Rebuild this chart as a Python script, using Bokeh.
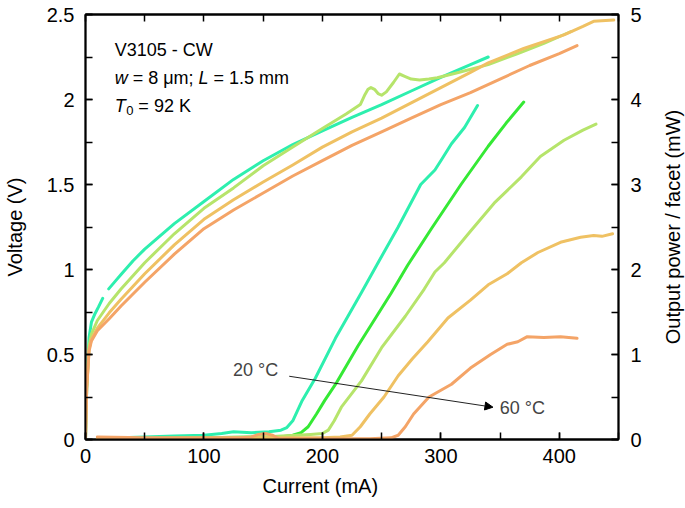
import math
from bokeh.plotting import figure
from bokeh.models import (Range1d, LinearAxis, SingleIntervalTicker, FixedTicker,
                          Label, Arrow, NormalHead, CustomJSTickFormatter, Title)
from bokeh.embed import file_html
from bokeh.resources import INLINE

nan = float("nan")

# ---------------- data ----------------
temps = ["20 °C", "30 °C", "40 °C", "50 °C", "60 °C"]
colors = ["#2DEFAE", "#35E935", "#B6E46B", "#EFC163", "#F4A467"]

# Voltage (V) vs current (mA)
v20_I = [0, 1, 3, 5, 8, 11, 14.5, nan, 19.6, 25, 30, 40, 50, 75, 100, 125, 150, 175, 200, 225, 250, 275, 300, 325, 340]
v20_V = [0, 0.3, 0.6, 0.69, 0.74, 0.78, 0.83, nan, 0.886, 0.93, 0.97, 1.05, 1.12, 1.27, 1.40, 1.53, 1.64, 1.735, 1.815, 1.895, 1.97, 2.05, 2.13, 2.205, 2.25]

v40_I = [0, 1, 3, 5, 10, 20, 30, 50, 75, 100, 125, 150, 175, 200, 220, 232, 236, 238.5, 241, 244, 247, 250, 254, 260, 265, 270, 275, 282, 290, 297, 314, 340, 365, 387, 410]
v40_V = [0, 0.3, 0.55, 0.62, 0.70, 0.80, 0.885, 1.04, 1.21, 1.36, 1.48, 1.61, 1.72, 1.83, 1.915, 1.97, 2.03, 2.06, 2.07, 2.06, 2.035, 2.025, 2.045, 2.10, 2.15, 2.135, 2.12, 2.115, 2.12, 2.128, 2.157, 2.205, 2.27, 2.33, 2.40]

v50_I = [0, 1, 3, 5, 10, 20, 30, 50, 75, 100, 125, 150, 175, 200, 225, 250, 275, 300, 325, 340, 370, 404, 420, 429, 446]
v50_V = [0, 0.3, 0.53, 0.59, 0.655, 0.745, 0.825, 0.975, 1.145, 1.295, 1.41, 1.515, 1.615, 1.72, 1.81, 1.89, 1.98, 2.07, 2.16, 2.215, 2.30, 2.38, 2.43, 2.46, 2.467]

v60_I = [0, 1, 3, 5, 10, 20, 30, 50, 75, 100, 125, 150, 175, 200, 225, 250, 275, 300, 325, 350, 375, 400, 415]
v60_V = [0, 0.3, 0.52, 0.58, 0.64, 0.71, 0.785, 0.925, 1.09, 1.24, 1.35, 1.45, 1.55, 1.64, 1.73, 1.81, 1.89, 1.97, 2.04, 2.12, 2.20, 2.27, 2.317]

# Output power / facet (mW) vs current (mA)
p20_I = [10, 30, 50, 75, 100, 115, 125, 140, 155, 165, 170, 175, 183, 194, 211, 233, 247, 264, 283, 295, 300, 309, 320, 331]
p20_P = [0.01, 0.02, 0.03, 0.04, 0.05, 0.07, 0.09, 0.08, 0.09, 0.11, 0.14, 0.22, 0.46, 0.72, 1.19, 1.73, 2.08, 2.5, 3.0, 3.17, 3.28, 3.48, 3.67, 3.93]

p30_I = [10, 50, 100, 150, 160, 175, 182, 188, 195, 202, 212, 230, 258, 272, 292, 317, 340, 355, 370]
p30_P = [0.01, 0.01, 0.02, 0.03, 0.02, 0.05, 0.08, 0.15, 0.3, 0.46, 0.67, 1.1, 1.72, 2.05, 2.48, 3.0, 3.45, 3.72, 3.97]

p40_I = [10, 100, 150, 190, 200, 205, 210, 216, 233, 250, 270, 286, 295, 303, 325, 345, 368, 384, 404, 420, 431]
p40_P = [0.01, 0.02, 0.03, 0.06, 0.07, 0.11, 0.22, 0.38, 0.69, 1.08, 1.45, 1.77, 1.97, 2.08, 2.45, 2.78, 3.09, 3.33, 3.52, 3.64, 3.71]

p50_I = [10, 100, 150, 200, 215, 225, 232, 240, 252, 264, 276, 289, 306, 325, 340, 356, 368, 382, 401, 418, 429, 436, 445]
p50_P = [0.01, 0.01, 0.02, 0.02, 0.03, 0.05, 0.15, 0.30, 0.5, 0.75, 0.95, 1.15, 1.43, 1.64, 1.82, 1.95, 2.08, 2.2, 2.32, 2.38, 2.40, 2.39, 2.42]

p60_I = [10, 50, 100, 130, 140, 146, 152, 158, 163, 200, 240, 258, 264, 270, 277, 290, 309, 325, 342, 356, 365, 373, 387, 401, 415]
p60_P = [0.03, 0.02, 0.02, 0.02, 0.03, 0.06, 0.07, 0.05, 0.01, 0.01, 0.01, 0.02, 0.05, 0.15, 0.3, 0.5, 0.65, 0.84, 1.0, 1.12, 1.15, 1.21, 1.20, 1.21, 1.19]

# axis ranges / ticks
x_range = (0, 450)
v_range = (0, 2.5)
p_range = (0, 5)
top_minor_ticks = [0, 50, 100, 150, 200, 250, 300, 350, 400, 450]

# annotation anchors (data coordinates)
arrow_start = (172, 0.372)
arrow_end = (344, 0.19)
label_20 = (124.6, 0.409)
label_60 = (349.8, 0.188)
info_x = 24.6
info_y = [2.29, 2.125, 1.963]

FONT = "Liberation Sans"
TICK_FS = "20px"
ANN_FS = 18

p = figure(width=685, height=508, x_range=Range1d(*x_range), y_range=Range1d(*v_range),
           output_backend="svg", toolbar_location=None,
           min_border_left=83, min_border_right=67, min_border_top=14, min_border_bottom=69)
p.grid.visible = False
p.outline_line_color = "black"
p.outline_line_width = 1.8
p.background_fill_color = "white"
p.border_fill_color = "white"

p.extra_y_ranges = {"power": Range1d(*p_range)}


def style_axis(ax, standoff=10):
    ax.axis_line_color = "black"
    ax.axis_line_width = 1.8
    ax.major_tick_in = 7
    ax.major_tick_out = 0
    ax.minor_tick_in = 7
    ax.minor_tick_out = 0
    ax.major_tick_line_width = 1.5
    ax.minor_tick_line_width = 1.5
    ax.major_tick_line_color = "black"
    ax.minor_tick_line_color = "black"
    ax.major_label_text_font = FONT
    ax.major_label_text_font_size = TICK_FS
    ax.major_label_text_color = "black"
    ax.major_label_standoff = standoff
    ax.axis_label_text_font = FONT
    ax.axis_label_text_font_size = "20px"
    ax.axis_label_text_font_style = "normal"
    ax.axis_label_text_color = "black"


fmt = CustomJSTickFormatter(code="return String(Math.round(tick*100)/100);")

xa = p.xaxis[0]
xa.ticker = SingleIntervalTicker(interval=100, num_minor_ticks=2)
xa.formatter = fmt
style_axis(xa, 9)

ya = p.yaxis[0]
ya.ticker = SingleIntervalTicker(interval=0.5, num_minor_ticks=2)
ya.formatter = fmt
style_axis(ya, 11)
ya.axis_label = "Voltage (V)"
ya.axis_label_standoff = 18

ra = LinearAxis(y_range_name="power", ticker=SingleIntervalTicker(interval=1, num_minor_ticks=2),
                formatter=fmt)
style_axis(ra, 12)
p.add_layout(ra, "right")

ta = LinearAxis(ticker=FixedTicker(ticks=[], minor_ticks=top_minor_ticks))
style_axis(ta, 0)
p.add_layout(ta, "above")

p.add_layout(Title(text="Current (mA)", align="left", offset=177, standoff=14,
                   text_font=FONT, text_font_size="20px", text_font_style="normal",
                   text_color="black"), "below")

# right-hand axis title, reading bottom-to-top like the left one
p.add_layout(Label(x=x_range[1], y=(v_range[0] + v_range[1]) / 2, x_offset=54,
                   text="Output power / facet (mW)", angle=math.pi / 2,
                   text_font=FONT, text_font_size="20px", text_color="black",
                   text_align="center", text_baseline="middle"), "right")

# ---- curves ----
volt = [(v20_I, v20_V, colors[0]), (v40_I, v40_V, colors[2]),
        (v50_I, v50_V, colors[3]), (v60_I, v60_V, colors[4])]
power = [(p20_I, p20_P, colors[0]), (p30_I, p30_P, colors[1]), (p40_I, p40_P, colors[2]),
         (p50_I, p50_P, colors[3]), (p60_I, p60_P, colors[4])]

for I, V, c in volt:
    p.line(I, V, line_color=c, line_width=3, line_cap="round", line_join="round")
for I, P, c in power:
    p.line(I, P, line_color=c, line_width=3, line_cap="round", line_join="round",
           y_range_name="power")

# ---- arrow and temperature labels ----
p.add_layout(Arrow(end=NormalHead(size=8, fill_color="black", line_color="black", line_width=1),
                   x_start=arrow_start[0], y_start=arrow_start[1],
                   x_end=arrow_end[0], y_end=arrow_end[1],
                   line_color="#222222", line_width=1))
p.add_layout(Label(x=label_20[0], y=label_20[1], text=temps[0], text_font=FONT,
                   text_font_size=f"{ANN_FS}px", text_align="left", text_baseline="middle"))
p.add_layout(Label(x=label_60[0], y=label_60[1], text=temps[4], text_font=FONT,
                   text_font_size=f"{ANN_FS}px", text_align="left", text_baseline="middle"))

# ---- info block ----
W = {" ": 278, "=": 584, "8": 556, "μ": 576, "m": 833, ";": 278, "1": 556, ".": 278,
     "5": 556, "w": 722, "L": 556, "T": 611, "0": 556, "9": 556, "2": 556, "K": 667}


def em(s):
    return sum(W[ch] for ch in s) / 1000.0


def lab(x_off, y, txt, style="normal", fs=ANN_FS, y_off=0):
    p.add_layout(Label(x=info_x, y=y, x_offset=x_off, y_offset=y_off, text=txt,
                       text_font=FONT, text_font_size=f"{fs}px", text_font_style=style,
                       text_align="left", text_baseline="alphabetic", text_color="black"))


lab(0, info_y[0], "V3105 - CW")
lab(0, info_y[1], "w", "italic")
lab(em("w ") * ANN_FS, info_y[1], "= 8 μm;")
lab(em("w = 8 μm; ") * ANN_FS, info_y[1], "L", "italic")
lab(em("w = 8 μm; L ") * ANN_FS, info_y[1], "= 1.5 mm")
sub_fs = 13
lab(0, info_y[2], "T", "italic")
lab(em("T") * ANN_FS + 0.5, info_y[2], "0", "normal", sub_fs, -5)
lab(em("T") * ANN_FS + em("0") * sub_fs + em(" ") * ANN_FS + 0.5, info_y[2], "= 92 K")

open("out.html", "w").write(file_html(p, INLINE))
